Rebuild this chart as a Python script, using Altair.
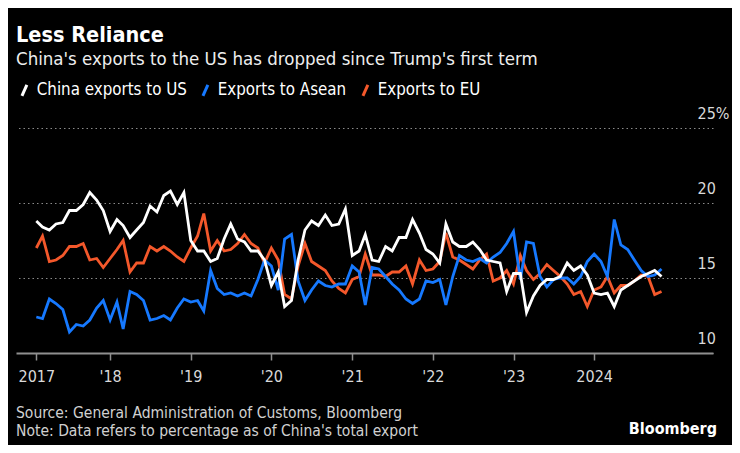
import altair as alt
import pandas as pd

# Monthly observations, Feb 2017 .. Nov 2024 (share of China's total exports, %)
months = pd.date_range("2017-02-01", periods=94, freq="MS").strftime("%Y-%m-%d").tolist()

us = [18.8, 18.4, 18.2, 18.6, 18.7, 19.5, 19.5, 19.9, 20.7, 20.2,
      19.5, 18.1, 18.9, 18.5, 17.7, 18.2, 18.7, 19.8, 19.4, 20.5,
      20.8, 19.9, 20.7, 17.5, 16.8, 16.8, 16.1, 16.3, 17.6, 18.6,
      17.6, 17.4, 16.8, 16.8, 16.2, 14.5, 15.4, 13.1, 13.5, 16.2,
      18.2, 18.8, 18.5, 19.2, 18.5, 18.6, 19.6, 16.5, 16.8, 17.9,
      16.2, 16.1, 17.1, 16.8, 17.7, 17.7, 18.9, 18.0, 16.9, 16.6,
      16.0, 18.6, 17.4, 17.1, 17.1, 17.4, 16.9, 16.2, 16.1, 16.0,
      14.1, 15.3, 15.3, 12.7, 13.8, 14.5, 14.9, 14.9, 15.1, 16.0,
      15.5, 15.8, 15.2, 14.0, 13.9, 14.0, 13.1, 14.2, 14.5, 14.8,
      15.1, 15.3, 15.5, 15.1]

asean = [12.4, 12.3, 13.6, 13.3, 12.9, 11.4, 11.9, 11.8, 12.2, 13.0,
         13.5, 12.2, 13.4, 11.6, 14.1, 13.9, 13.5, 12.2, 12.3, 12.5,
         12.2, 13.0, 13.6, 13.4, 13.5, 12.8, 15.5, 14.3, 13.9, 14.0,
         13.8, 14.0, 13.8, 14.9, 16.2, 15.8, 14.2, 17.6, 17.9, 14.8,
         13.5, 14.2, 14.8, 14.5, 14.4, 14.6, 14.6, 15.8, 15.4, 13.2,
         15.7, 15.6, 15.1, 14.6, 14.2, 13.6, 13.3, 13.6, 14.8, 14.7,
         14.9, 13.2, 15.1, 16.5, 16.2, 16.1, 16.3, 16.0, 16.4, 16.7,
         17.3, 18.1, 14.9, 17.4, 17.3, 15.1, 14.4, 14.9, 15.0, 15.0,
         14.6, 15.1, 16.1, 16.6, 16.1, 15.1, 18.9, 17.2, 16.9, 16.2,
         15.5, 15.1, 15.2, 15.6]

eu = [17.0, 17.8, 16.1, 16.2, 16.5, 17.1, 17.1, 17.3, 16.2, 16.3,
      15.7, 16.3, 16.9, 17.5, 15.4, 16.0, 16.0, 17.1, 16.8, 17.1,
      16.8, 16.4, 16.1, 17.0, 17.8, 19.3, 16.8, 17.5, 16.8, 16.9,
      17.3, 17.9, 17.3, 17.0, 16.0, 17.0, 16.2, 13.9, 13.6, 15.8,
      17.3, 16.1, 15.8, 15.5, 14.8, 14.3, 14.0, 14.9, 15.1, 16.6,
      15.2, 15.2, 15.1, 15.4, 15.4, 15.8, 14.6, 16.2, 15.5, 15.6,
      16.1, 18.0, 16.4, 16.2, 15.9, 15.6, 16.2, 16.6, 14.8, 15.0,
      15.5, 14.6, 16.5, 15.5, 14.9, 15.3, 15.9, 15.5, 15.1, 14.6,
      13.9, 14.1, 13.1, 14.2, 14.4, 15.1, 14.0, 14.5, 14.5, 14.8,
      15.2, 15.1, 13.9, 14.1]

series_names = ["China exports to US", "Exports to Asean", "Exports to EU"]
series_colors = ["#ffffff", "#1679ff", "#f4582b"]

y_ticks = [10, 15, 20, 25]
x_tick_dates = [(2017, 2), (2018, 1), (2019, 1), (2020, 1), (2021, 1),
                (2022, 1), (2023, 1), (2024, 1)]

title_text = "Less Reliance"
subtitle_text = "China's exports to the US has dropped since Trump's first term"
source_text = "Source: General Administration of Customs, Bloomberg"
note_text = "Note: Data refers to percentage as of China's total export"
brand_text = "Bloomberg"

FONT = "Liberation Sans Narrow, DejaVu Sans Condensed, Liberation Sans"

df = pd.DataFrame({
    "date": months * 3,
    "value": us + asean + eu,
    "series": [series_names[0]] * len(us) + [series_names[1]] * len(asean)
              + [series_names[2]] * len(eu),
})

x_enc = alt.X(
    "date:T",
    scale=alt.Scale(type="utc",
                    domain=[alt.DateTime(year=2016, month=11, date=1, utc=True),
                            alt.DateTime(year=2025, month=6, date=22, utc=True)]),
    axis=alt.Axis(
        title=None,
        values=[alt.DateTime(year=y, month=m, date=1, utc=True) for y, m in x_tick_dates],
        labelExpr="(utcFormat(datum.value, '%Y') == '2017' || utcFormat(datum.value, '%Y') == '2024') ? utcFormat(datum.value, '%Y') : \"'\" + utcFormat(datum.value, '%y')",
        grid=False,
        domain=True, domainColor="#8f8f8f", domainWidth=2,
        ticks=True, tickColor="#8f8f8f", tickSize=7, tickWidth=1.5,
        labelColor="#d9d9d9", labelFontSize=16, labelFont=FONT,
        labelPadding=8, labelAlign="center",
    ),
)

y_enc = alt.Y(
    "value:Q",
    scale=alt.Scale(domain=[10, 25], nice=False, zero=False),
    axis=alt.Axis(
        title=None, orient="right", values=y_ticks,
        labelExpr="datum.value == 25 ? '25%' : datum.label",
        grid=True, gridColor="#8a8a8a", gridDash=[1.5, 3], gridWidth=1,
        domain=False, ticks=False,
        labelAlign="left", labelPadding=-16, labelBaseline="alphabetic",
        labelOffset=-10,
        labelColor="#d9d9d9", labelFontSize=16, labelFont=FONT,
    ),
)

color_enc = alt.Color(
    "series:N",
    scale=alt.Scale(domain=series_names, range=series_colors),
    legend=alt.Legend(
        title=None, orient="none", legendX=0, legendY=-46, direction="horizontal",
        symbolType="M-0.4,0.9L0.4,-0.9", symbolSize=150, symbolStrokeWidth=3,
        labelFontSize=16.8, labelColor="#ffffff", labelFont=FONT, labelLimit=0,
        columnPadding=9, symbolOffset=0,
    ),
)

base = alt.Chart(df).encode(x=x_enc, y=y_enc, color=color_enc)

lines = [
    base.transform_filter(alt.datum.series == name).mark_line(strokeWidth=2.8, strokeJoin="miter")
    for name in [series_names[2], series_names[1], series_names[0]]
]

foot_df = pd.DataFrame({"a": [0]})
source = alt.Chart(foot_df).mark_text(
    text=source_text, align="left", baseline="alphabetic", fontSize=15.5,
    font=FONT, color="#d0d0d0").encode(x=alt.value(0), y=alt.value(290))
note = alt.Chart(foot_df).mark_text(
    text=note_text, align="left", baseline="alphabetic", fontSize=15.5,
    font=FONT, color="#d0d0d0").encode(x=alt.value(0), y=alt.value(308))
brand = alt.Chart(foot_df).mark_text(
    text=brand_text, align="right", baseline="alphabetic", fontSize=16,
    fontWeight="bold", font=FONT, color="#ffffff").encode(x=alt.value(701), y=alt.value(306))

chart = alt.layer(*lines, source, note, brand).properties(
    width=697, height=225,
    title=alt.TitleParams(
        text=title_text, subtitle=subtitle_text, anchor="start", frame="group",
        font=FONT, fontSize=21.5, fontWeight="bold", color="#ffffff",
        subtitleFont=FONT, subtitleFontSize=18.5, subtitleColor="#eeeeee",
        subtitlePadding=3, offset=14,
    ),
    autosize=alt.AutoSizeParams(type="none"),
    padding={"left": 8, "top": 120, "right": 19, "bottom": 92},
).configure(background="#000000").configure_view(stroke=None)

chart.save("out.html", embed_options={"renderer": "svg", "actions": False})
